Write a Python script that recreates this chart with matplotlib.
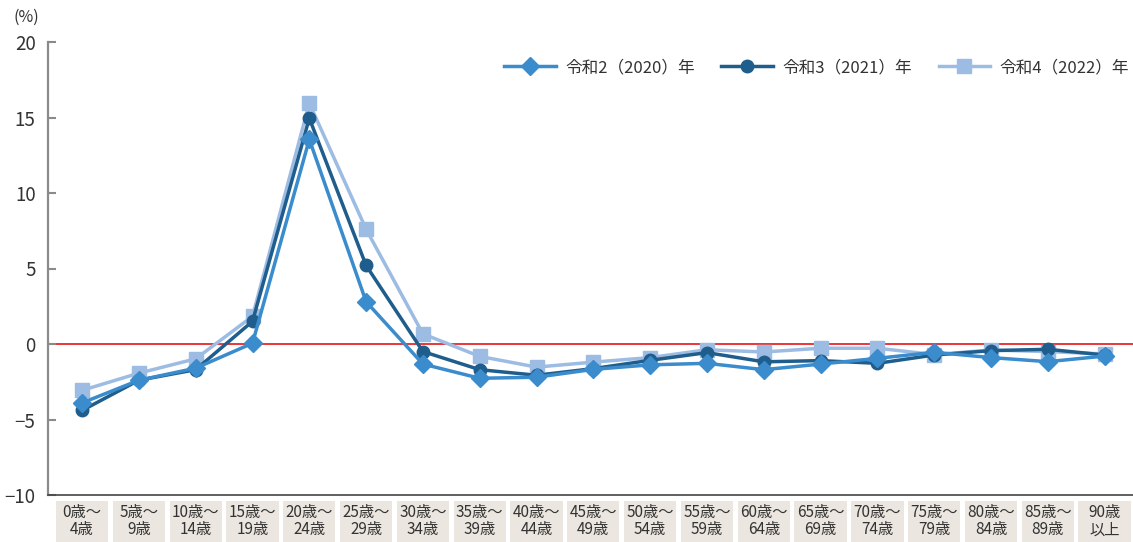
import matplotlib
matplotlib.use('Agg')
import matplotlib.pyplot as plt
import matplotlib.transforms as mtransforms
from matplotlib.patches import Rectangle

plt.rcParams['font.family'] = ['Noto Sans CJK JP', 'DejaVu Sans']

## Data
ages = ['0歳～\n4歳', '5歳～\n9歳', '10歳～\n14歳', '15歳～\n19歳', '20歳～\n24歳',
        '25歳～\n29歳', '30歳～\n34歳', '35歳～\n39歳', '40歳～\n44歳', '45歳～\n49歳',
        '50歳～\n54歳', '55歳～\n59歳', '60歳～\n64歳', '65歳～\n69歳', '70歳～\n74歳',
        '75歳～\n79歳', '80歳～\n84歳', '85歳～\n89歳', '90歳\n以上']

r2 = [-3.9, -2.4, -1.6, 0.05, 13.55, 2.8, -1.33, -2.27, -2.2, -1.68,
      -1.38, -1.28, -1.7, -1.33, -0.95, -0.55, -0.9, -1.17, -0.8]
r3 = [-4.4, -2.4, -1.7, 1.5, 14.95, 5.2, -0.5, -1.7, -2.07, -1.63,
      -1.08, -0.57, -1.18, -1.1, -1.28, -0.73, -0.44, -0.35, -0.73]
r4 = [-3.07, -1.93, -0.98, 1.83, 15.95, 7.6, 0.67, -0.82, -1.53, -1.2,
      -0.9, -0.38, -0.53, -0.28, -0.28, -0.7, -0.4, -0.5, -0.66]

labels = ['令和2（2020）年', '令和3（2021）年', '令和4（2022）年']
yticks = [-10, -5, 0, 5, 10, 15, 20]

x = list(range(len(ages)))

## Figure
fig = plt.figure(figsize=(11.33, 5.42), dpi=100)
ax = fig.add_axes([48 / 1133, 47 / 542, (1133 - 48) / 1133, 453 / 542])

ax.axhline(0, color='#e8262b', lw=1.3, zorder=1)

l4, = ax.plot(x, r4, color='#9dbce3', lw=2.5, marker='s', ms=9.5, zorder=2)
l3, = ax.plot(x, r3, color='#1f5d8c', lw=2.5, marker='o', ms=9, zorder=3)
l2, = ax.plot(x, r2, color='#3a8ccc', lw=2.5, marker='D', ms=9, zorder=4)

ax.set_xlim(-0.6, 18.5)
ax.set_ylim(-10, 20)
ax.set_yticks(yticks)
ax.set_yticklabels(['−10', '−5', '0', '5', '10', '15', '20'])
ax.set_xticks([])

for s in ['top', 'right']:
    ax.spines[s].set_visible(False)
ax.spines['left'].set_color('#8a8a8a')
ax.spines['left'].set_linewidth(1.6)
ax.spines['bottom'].set_color('#444444')
ax.spines['bottom'].set_linewidth(1.2)
ax.tick_params(axis='y', direction='in', length=6, width=1.5, color='#8a8a8a',
               labelsize=13.5, labelcolor='#333333', pad=9)

ax.text(-0.032, 1.035, '(%)', transform=ax.transAxes, fontsize=11.5,
        color='#333333', ha='left', va='bottom')

# category boxes under the axis
trans = mtransforms.blended_transform_factory(ax.transData, ax.transAxes)
for i, lab in enumerate(ages):
    ax.add_patch(Rectangle((i - 0.46, -0.104), 0.92, 0.091, transform=trans,
                           facecolor='#ebe6df', edgecolor='none', clip_on=False))
    ax.text(i, -0.058, lab, transform=trans, ha='center', va='center',
            fontsize=11, color='#333333', linespacing=1.0)

ax.legend([l2, l3, l4], labels, ncol=3, frameon=False, loc='upper right',
          bbox_to_anchor=(1.01, 0.995), fontsize=12, handlelength=3.1,
          columnspacing=1.6, handletextpad=0.55, labelcolor='#333333')

fig.savefig('out.png', dpi=100)
